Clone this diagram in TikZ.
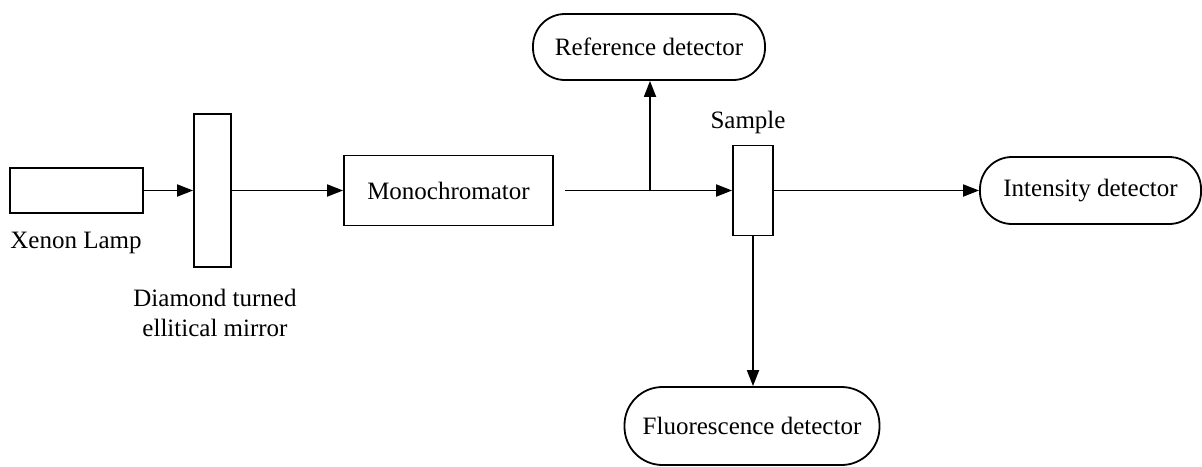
\documentclass[tikz,border=0pt]{standalone}
\usepackage{fontspec}
\setmainfont{Liberation Serif}
\usetikzlibrary{arrows.meta}
\begin{document}
\begin{tikzpicture}[x=1pt,y=-1pt,
  box/.style={draw,line width=1.8pt,inner sep=0pt},
  det/.style={draw,line width=1.8pt,inner sep=0pt,rounded corners=32pt},
  lbl/.style={inner sep=0pt,font=\fontsize{25}{30}\selectfont},
  conn/.style={line width=1.8pt,-{Triangle[length=16pt,width=12pt]}},
  font=\fontsize{25}{30}\selectfont]
\useasboundingbox (0,0) rectangle (1202,466);
\node[box,minimum width=133pt,minimum height=45pt] (lamp) at (76.5,190.5) {};
\node[box,minimum width=37pt,minimum height=153pt] (mirror) at (212.5,190.5) {};
\node[box,minimum width=209pt,minimum height=70pt] (mono) at (448.5,190.5) {Monochromator};
\node[det,minimum width=232pt,minimum height=66pt] (ref) at (649,47) {Reference detector};
\node[box,minimum width=40pt,minimum height=90pt] (sample) at (753,190.5) {};
\node[det,minimum width=221pt,minimum height=67pt] (int) at (1090.5,190.5) {Intensity detector};
\node[det,minimum width=255pt,minimum height=78pt,rounded corners=38pt] (fluo) at (752,426) {Fluorescence detector};
\node[lbl] (lamplbl) at (76,243) {Xenon Lamp};
\node[lbl] (samplelbl) at (748,122) {Sample};
\node[lbl,align=center] (mirrorlbl) at (215,313) {Diamond turned\\ellitical mirror};
\coordinate (mout) at (565,190.5);
\coordinate (branch) at (650,190.5);
\draw[conn] (lamp.east) -- (mirror.west);
\draw[conn] (mirror.east) -- (mono.west);
\draw[conn] (mout) -- (sample.west);
\draw[conn] (branch) -- (branch |- ref.south);
\draw[conn] (sample.east) -- (int.west);
\draw[conn] (sample.south) -- (sample.south |- fluo.north);
\end{tikzpicture}
\end{document}
